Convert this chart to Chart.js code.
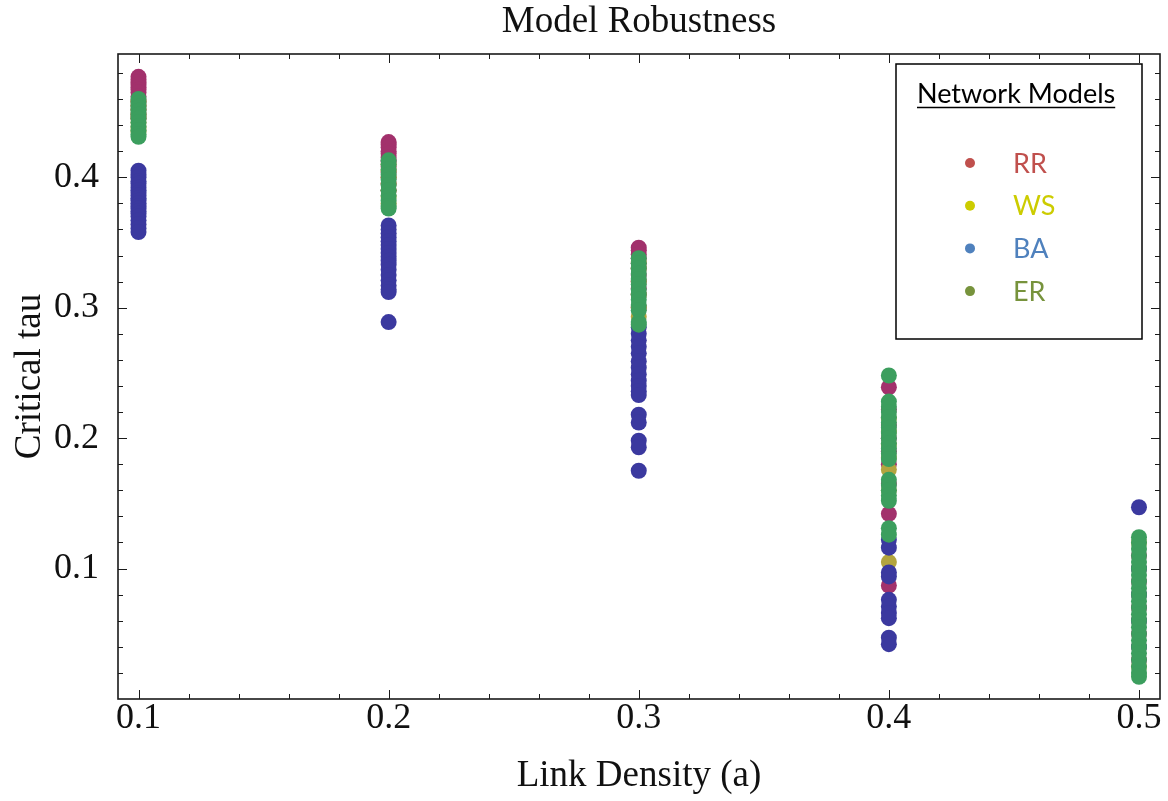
<!DOCTYPE html>
<html>
<head>
<meta charset="utf-8">
<script src="https://cdn.jsdelivr.net/npm/chart.js@4.4.1/dist/chart.umd.min.js"></script>
<style>
  html, body { margin: 0; padding: 0; background: #fff; }
  #wrap { width: 1168px; height: 801px; }
</style>
</head>
<body>
<div id="wrap"><canvas id="c" width="1168" height="801"></canvas></div>
<script>
// ---- data ----
const chartTitle = 'Model Robustness';
const xAxisTitle = 'Link Density (a)';
const yAxisTitle = 'Critical tau';
const legendTitle = 'Network Models';

const linkDensity = [0.1, 0.2, 0.3, 0.4, 0.5];
const seriesNames = ['RR', 'WS', 'BA', 'ER'];

// critical tau values per link density (one inner list per x value)
const rrTau = [
  [0.477, 0.475, 0.473, 0.471, 0.469, 0.467, 0.465, 0.462, 0.458, 0.455, 0.452, 0.448, 0.445],
  [0.427, 0.425, 0.423, 0.420, 0.418, 0.415, 0.412, 0.408, 0.404, 0.400, 0.395, 0.390],
  [0.346, 0.344, 0.341, 0.338, 0.334, 0.330, 0.325, 0.320, 0.315, 0.310, 0.300],
  [0.239, 0.222, 0.210, 0.200, 0.190, 0.180, 0.165, 0.142, 0.087],
  [0.110, 0.090, 0.070, 0.050, 0.030]
];
const wsTau = [
  [0.458, 0.455, 0.452, 0.448, 0.445, 0.442, 0.438, 0.435],
  [0.410, 0.405, 0.400, 0.395, 0.390, 0.385, 0.380],
  [0.335, 0.330, 0.320, 0.310, 0.300, 0.293],
  [0.215, 0.205, 0.195, 0.185, 0.176, 0.160, 0.105],
  [0.120, 0.100, 0.080, 0.060, 0.040, 0.025]
];
const baTau = [
  [0.405, 0.402, 0.400, 0.397, 0.395, 0.392, 0.390, 0.388, 0.386, 0.384, 0.382, 0.380, 0.378, 0.376, 0.374, 0.372, 0.370, 0.367, 0.364, 0.361, 0.358],
  [0.363, 0.360, 0.357, 0.354, 0.351, 0.348, 0.345, 0.342, 0.339, 0.336, 0.333, 0.329, 0.325, 0.321, 0.317, 0.314, 0.312, 0.289],
  [0.285, 0.280, 0.275, 0.270, 0.265, 0.259, 0.254, 0.249, 0.244, 0.240, 0.236, 0.233, 0.218, 0.212, 0.198, 0.193, 0.175],
  [0.122, 0.116, 0.097, 0.094, 0.076, 0.071, 0.066, 0.062, 0.047, 0.042],
  [0.147, 0.100, 0.080, 0.060, 0.040]
];
const erTau = [
  [0.460, 0.457, 0.454, 0.451, 0.448, 0.445, 0.442, 0.439, 0.436, 0.433, 0.431],
  [0.413, 0.410, 0.406, 0.402, 0.398, 0.394, 0.390, 0.386, 0.382, 0.378, 0.376],
  [0.338, 0.334, 0.330, 0.326, 0.322, 0.318, 0.314, 0.310, 0.306, 0.302, 0.298, 0.289, 0.287],
  [0.248, 0.228, 0.224, 0.220, 0.216, 0.212, 0.208, 0.204, 0.200, 0.196, 0.192, 0.188, 0.184, 0.168, 0.164, 0.160, 0.156, 0.152, 0.131, 0.126],
  [0.124, 0.120, 0.115, 0.110, 0.105, 0.100, 0.095, 0.090, 0.085, 0.080, 0.075, 0.070, 0.065, 0.060, 0.055, 0.050, 0.045, 0.040, 0.035, 0.030, 0.025, 0.020, 0.017]
];

const xTickValues = [0.1, 0.2, 0.3, 0.4, 0.5];
const xTickLabels = ['0.1', '0.2', '0.3', '0.4', '0.5'];
const yTickValues = [0.1, 0.2, 0.3, 0.4];
const yTickLabels = ['0.1', '0.2', '0.3', '0.4'];

// ---- styles ----
const pointColors = ['#a2316c', '#b3a43f', '#3b399f', '#3c9e5e'];
const legendColors = ['#c0504d', '#cccc00', '#4f81bd', '#77933c'];
const serif = 'Liberation Serif';

function toPoints(values) {
  return linkDensity.flatMap((x, i) => values[i].map(y => ({ x: x, y: y })));
}
const allSeries = [rrTau, wsTau, baTau, erTau];

// later series are painted over earlier ones (ER on top)
const datasets = seriesNames.map((name, i) => ({
  label: name,
  data: toPoints(allSeries[i]),
  backgroundColor: pointColors[i],
  borderWidth: 0,
  pointRadius: 8,
  pointHoverRadius: 8,
  order: seriesNames.length - i
}));

// frame with inward ticks on all four sides
const framePlugin = {
  id: 'frame',
  afterDatasetsDraw(chart) {
    const { ctx, chartArea: a, scales } = chart;
    const xs = scales.x, ys = scales.y;
    ctx.save();
    ctx.strokeStyle = '#1a1a1a';
    ctx.lineWidth = 1;
    const seg = (x1, y1, x2, y2) => { ctx.beginPath(); ctx.moveTo(x1, y1); ctx.lineTo(x2, y2); ctx.stroke(); };
    for (let k = 0; k <= 20; k++) {
      const v = 0.1 + k * 0.02;
      const len = (k % 5 === 0) ? 9 : 5;
      const p = Math.round(xs.getPixelForValue(v)) + 0.5;
      seg(p, a.bottom, p, a.bottom - len);
      seg(p, a.top, p, a.top + len);
    }
    for (let k = 1; k <= 24; k++) {
      const v = k * 0.02;
      const len = (k % 5 === 0) ? 9 : 5;
      const p = Math.round(ys.getPixelForValue(v)) + 0.5;
      seg(a.left, p, a.left + len, p);
      seg(a.right, p, a.right - len, p);
    }
    ctx.lineWidth = 1.6;
    ctx.strokeRect(a.left, a.top, a.right - a.left, a.bottom - a.top);
    ctx.restore();
  }
};

// boxed legend in the upper right
const boxLegendPlugin = {
  id: 'boxLegend',
  afterDraw(chart) {
    const ctx = chart.ctx;
    const bx = 896, by = 64, bw = 246, bh = 275;
    ctx.save();
    ctx.fillStyle = '#fff';
    ctx.fillRect(bx, by, bw, bh);
    ctx.strokeStyle = '#000';
    ctx.lineWidth = 1.5;
    ctx.strokeRect(bx, by, bw, bh);
    ctx.font = '27px Lato';
    ctx.fillStyle = '#000';
    ctx.textBaseline = 'alphabetic';
    ctx.textAlign = 'left';
    ctx.fillText(legendTitle, 917, 103);
    const tw = ctx.measureText(legendTitle).width;
    ctx.lineWidth = 1.6;
    ctx.beginPath(); ctx.moveTo(917, 107.5); ctx.lineTo(917 + tw, 107.5); ctx.stroke();
    chart.data.datasets.forEach((ds, i) => {
      const cy = 163 + i * 42.7;
      ctx.fillStyle = legendColors[i];
      ctx.beginPath(); ctx.arc(970, cy, 5, 0, Math.PI * 2); ctx.fill();
      ctx.fillText(ds.label, 1013, cy + 9.5);
    });
    ctx.restore();
  }
};

new Chart(document.getElementById('c'), {
  type: 'scatter',
  data: { datasets: datasets },
  options: {
    responsive: false,
    animation: false,
    events: [],
    layout: { padding: 0 },
    plugins: {
      legend: { display: false },
      tooltip: { enabled: false },
      title: {
        display: true,
        text: chartTitle,
        fullSize: false,
        color: '#111',
        font: { family: serif, size: 37, weight: 'normal', lineHeight: 1.2 },
        padding: { top: 0, bottom: 9.6 }
      }
    },
    scales: {
      x: {
        type: 'linear',
        min: 0.0918,
        max: 0.5084,
        afterBuildTicks: s => { s.ticks = xTickValues.map(v => ({ value: v })); },
        afterFit: s => { s.height = 102; },
        grid: { display: false, drawTicks: false },
        border: { display: false },
        ticks: {
          autoSkip: false, maxRotation: 0, padding: 2, color: '#111',
          font: { family: serif, size: 36, lineHeight: 1 },
          callback: (v, i) => xTickLabels[i]
        },
        title: {
          display: true, text: xAxisTitle, color: '#111',
          font: { family: serif, size: 37, lineHeight: 1.2 },
          padding: { top: 0, bottom: 3 }
        }
      },
      y: {
        type: 'linear',
        min: 0,
        max: 0.4945,
        afterBuildTicks: s => { s.ticks = yTickValues.map(v => ({ value: v })); },
        afterFit: s => { s.width = 118; },
        grid: { display: false, drawTicks: false },
        border: { display: false },
        ticks: {
          autoSkip: false, padding: 19, color: '#111',
          font: { family: serif, size: 36, lineHeight: 1 },
          callback: (v, i) => yTickLabels[i]
        },
        title: {
          display: true, text: yAxisTitle, color: '#111',
          font: { family: serif, size: 37, lineHeight: 1.2 },
          padding: { top: 8, bottom: 0 }
        }
      }
    }
  },
  plugins: [framePlugin, boxLegendPlugin]
});
</script>
</body>
</html>
